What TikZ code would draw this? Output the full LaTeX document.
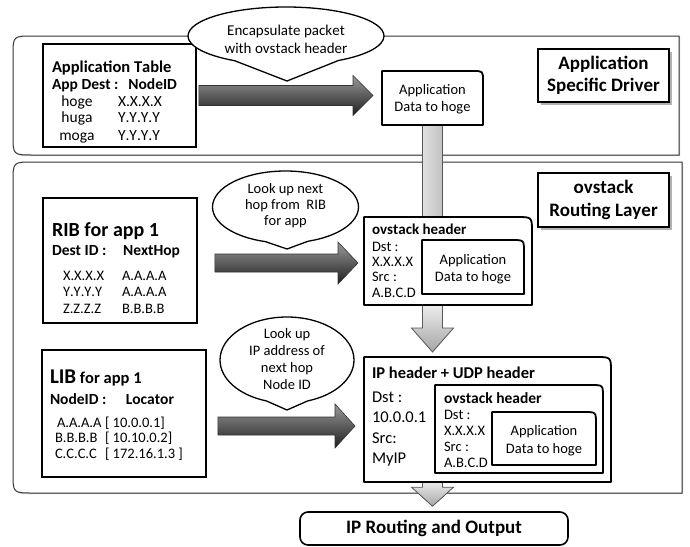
\documentclass[tikz,border=0pt]{standalone}
\usepackage{fontspec}
\setmainfont[Kerning=Off]{Carlito}
\usetikzlibrary{shapes.misc,shapes.callouts,shadows,calc}
\newcommand\rtbox[2]{\filldraw[boxline] (#1.south west) -- (#1.north west) -- ([xshift=-#2]#1.north east) .. controls (#1.north east) .. ([yshift=-#2]#1.north east) -- (#1.south east) -- cycle;}
\newcommand\drawfat[5]{\draw[fatarrow] ([yshift=#3]#1) -- ([xshift=-#5,yshift=#3]#2) -- ([xshift=-#5,yshift=#4]#2) -- (#2) -- ([xshift=-#5,yshift=-#4]#2) -- ([xshift=-#5,yshift=-#3]#2) -- ([yshift=-#3]#1) -- cycle;}
\tikzset{
  frame/.style={inner sep=0pt, outer sep=0pt, draw=none},
  boxline/.style={draw=black, fill=white, line width=1.8pt, line join=round},
  tablebox/.style={chamfered rectangle, chamfered rectangle corners=north east, chamfered rectangle xsep=14pt, chamfered rectangle ysep=14pt, draw=black, fill=white, line width=1.8pt, inner sep=0pt},
  titlebox/.style={rectangle, draw=black, fill=white, line width=1.8pt, inner sep=0pt, align=center, font=\fontsize{19}{22}\selectfont\bfseries, drop shadow={shadow xshift=2.5pt, shadow yshift=-2.5pt, fill=black!50, opacity=0.6}},
  routebox/.style={rectangle, rounded corners=8pt, draw=black, fill=white, line width=1.6pt, inner sep=0pt, font=\fontsize{19}{22}\selectfont\bfseries},
  layer/.style={draw=black!80, line width=1pt, fill=white, drop shadow={shadow xshift=1.2pt, shadow yshift=-1.2pt, fill=black!40, opacity=0.5}},
  bubble/.style={ellipse callout, draw=black, fill=white, line width=1.3pt, inner sep=0pt},
  fatarrow/.style={draw=black!80, line width=0.6pt, top color=black!40, bottom color=black!88, line join=miter},
  graybar/.style={draw=black!65, line width=0.8pt, left color=black!12, right color=black!24},
  grayarrow/.style={draw=black!65, line width=0.8pt, top color=black!6, bottom color=black!35, line join=miter},
  r145/.style={inner sep=0pt, outer sep=0pt, font=\fontsize{14.5}{17.5}\selectfont},
  r155/.style={inner sep=0pt, outer sep=0pt, font=\fontsize{15.5}{18}\selectfont},
  r165/.style={inner sep=0pt, outer sep=0pt, font=\fontsize{16.5}{20}\selectfont},
  b15/.style={inner sep=0pt, outer sep=0pt, font=\fontsize{15}{18}\selectfont\bfseries},
  b155/.style={inner sep=0pt, outer sep=0pt, font=\fontsize{15.5}{18}\selectfont\bfseries},
  b165/.style={inner sep=0pt, outer sep=0pt, font=\fontsize{16.5}{20}\selectfont\bfseries},
  b20/.style={inner sep=0pt, outer sep=0pt, font=\fontsize{20}{24}\selectfont\bfseries},
}
\begin{document}
\begin{tikzpicture}[x=1pt,y=-1pt]
\useasboundingbox (0,0) rectangle (690,546);
% frames of the packet boxes
\node[frame, minimum width=101, minimum height=54] (appdata1) at (432.5,98) {};
\node[frame, minimum width=168, minimum height=88] (ovbox) at (448,261) {};
\node[frame, minimum width=102, minimum height=54] (appdata2) at (473,267) {};
\node[frame, minimum width=247, minimum height=125] (ipbox) at (487.5,419.5) {};
\node[frame, minimum width=168, minimum height=88] (ovbox2) at (519,429) {};
\node[frame, minimum width=104, minimum height=53] (appdata3) at (544,438.5) {};
% layers
\draw[layer] (679,36) -- (33,36) .. controls (13,36) .. (13,56) -- (13,135) .. controls (13,155) .. (33,155) -- (679,155) -- cycle;
\draw[layer] (682,162) -- (33,162) .. controls (13,162) .. (13,182) -- (13,473) .. controls (13,493) .. (33,493) -- (682,493) -- cycle;
% bottom output box
\node[routebox, minimum width=268, minimum height=33] (iprout) at (434,528.5) {IP Routing and Output};
% gray block arrows
\filldraw[graybar] ($(appdata1.south)+(-10,-2)$) rectangle ($(appdata1.south |- ovbox.north)+(10,2)$);
\coordinate (g2s) at (appdata1.south |- ovbox.south);
\coordinate (g2t) at ($(appdata1.south |- ipbox.north)+(0,-5)$);
\filldraw[grayarrow] ([xshift=-10pt,yshift=2pt]g2s) -- ([xshift=10pt,yshift=2pt]g2s) -- ([xshift=10pt,yshift=24pt]g2t) -- ([xshift=21pt,yshift=24pt]g2t) -- (g2t) -- ([xshift=-21pt,yshift=24pt]g2t) -- ([xshift=-10pt,yshift=24pt]g2t) -- cycle;
\coordinate (g3s) at (appdata1.south |- ipbox.south);
\coordinate (g3t) at ($(appdata1.south |- iprout.north)+(0,-5)$);
\filldraw[grayarrow] ([xshift=-10pt,yshift=2pt]g3s) -- ([xshift=10pt,yshift=2pt]g3s) -- ([xshift=10pt,yshift=19pt]g3t) -- ([xshift=21pt,yshift=19pt]g3t) -- (g3t) -- ([xshift=-21pt,yshift=19pt]g3t) -- ([xshift=-10pt,yshift=19pt]g3t) -- cycle;
% packet boxes
\rtbox{appdata1}{10pt}
\rtbox{ovbox}{15pt}
\rtbox{appdata2}{12pt}
\rtbox{ipbox}{15pt}
\rtbox{ovbox2}{12pt}
\rtbox{appdata3}{12pt}
% tables
\node[tablebox, minimum width=153, minimum height=103] (apptable) at (119.5,95.5) {};
\node[tablebox, minimum width=154, minimum height=125, chamfered rectangle xsep=15pt, chamfered rectangle ysep=15pt] (rib) at (120,260.5) {};
\node[tablebox, minimum width=164, minimum height=127] (lib) at (124,413.5) {};
% layer titles
\node[titlebox, minimum width=131, minimum height=53] (asd) at (603.5,75.5) {Application\\Specific Driver};
\node[titlebox, minimum width=131, minimum height=54, font=\fontsize{19}{23}\selectfont\bfseries] (orl) at (603.5,200) {ovstack\\Routing Layer};
% fat arrows
\coordinate (a1s) at ([xshift=2pt]apptable.east);
\coordinate (a1t) at ($(appdata1.west |- a1s)+(-9,0)$);
\drawfat{a1s}{a1t}{10pt}{20pt}{20pt}
\coordinate (a2s) at ($(rib.east)+(17,2.5)$);
\coordinate (a2t) at ($(ovbox.west |- a2s)+(-6,0)$);
\drawfat{a2s}{a2t}{9pt}{21pt}{20pt}
\coordinate (a3s) at ($(lib.east)+(11,12.5)$);
\coordinate (a3t) at ($(ipbox.west |- a3s)+(-9,0)$);
\drawfat{a3s}{a3t}{9pt}{22pt}{20pt}
% callouts
\node[bubble, minimum width=196, minimum height=58, callout pointer arc=64, callout absolute pointer={(287,81)}] (call1) at (286,36) {};
\node[bubble, minimum width=146, minimum height=72, callout pointer arc=34, callout absolute pointer={(287,249)}] (call2) at (285.5,207) {};
\node[bubble, minimum width=134, minimum height=86, callout pointer arc=36, callout absolute pointer={(287,410)}] (call3) at (287,360) {};
\node[r145, font=\fontsize{15}{18}\selectfont, align=center] (call1txt) at (286,39) {Encapsulate packet\\with ovstack header};
\node[r145, font=\fontsize{14.5}{16}\selectfont, align=center] (call2txt) at (285.5,206) {Look up next\\hop from \ RIB\\for app};
\node[r145, font=\fontsize{14.5}{17.3}\selectfont, align=center] (call3txt) at (287,359) {Look up\\IP address of\\next hop\\Node ID};
% application table text
\node[b165, anchor=base west] (attitle) at (52,72) {Application Table};
\node[b155, anchor=base west] (atdest) at (52,89.5) {App Dest :};
\node[b155, anchor=base east] (atnid) at (177,89.5) {NodeID};
\node[r155, anchor=base] (at1a) at (77,106) {hoge};
\node[r155, anchor=base west] (at1b) at (118,106) {X.X.X.X};
\node[r155, anchor=base] (at2a) at (77,122.5) {huga};
\node[r155, anchor=base west] (at2b) at (118,122.5) {Y.Y.Y.Y};
\node[r155, anchor=base] (at3a) at (77,140) {moga};
\node[r155, anchor=base west] (at3b) at (118,140) {Y.Y.Y.Y};
% RIB text
\node[b20, anchor=base west] (ribt) at (52,236) {RIB for app 1};
\node[b155, anchor=base west] (ribd) at (52,255) {Dest ID :};
\node[b155, anchor=base east] (ribn) at (180,255) {NextHop};
\node[r145, anchor=base west] (rib1a) at (63,280.5) {X.X.X.X};
\node[r145, anchor=base west] (rib1b) at (122,280.5) {A.A.A.A};
\node[r145, anchor=base west] (rib2a) at (63,296.5) {Y.Y.Y.Y};
\node[r145, anchor=base west] (rib2b) at (122,296.5) {A.A.A.A};
\node[r145, anchor=base west] (rib3a) at (63,313.5) {Z.Z.Z.Z};
\node[r145, anchor=base west] (rib3b) at (122,313.5) {B.B.B.B};
% LIB text
\node[b165, anchor=base west] (libt) at (50,383) {{\fontsize{21}{24}\selectfont LIB} for app 1};
\node[b155, anchor=base west] (libn) at (50,404) {NodeID :};
\node[b155, anchor=base east] (libl) at (174,404) {Locator};
\node[r145, anchor=base west] (lib1a) at (57,427.5) {A.A.A.A};
\node[r145, anchor=base west] (lib1b) at (105,427.5) {[ 10.0.0.1]};
\node[r145, anchor=base west] (lib2a) at (55,442.5) {B.B.B.B};
\node[r145, anchor=base west] (lib2b) at (105,442.5) {[ 10.10.0.2]};
\node[r145, anchor=base west] (lib3a) at (55,458.5) {C.C.C.C};
\node[r145, anchor=base west] (lib3b) at (105,458.5) {[ 172.16.1.3 ]};
% packet texts
\node[r145, align=center] (ad1t) at (432.5,99) {Application\\Data to hoge};
\node[b15, anchor=base west] (ovh1) at (372,234.5) {ovstack header};
\node[r145, anchor=base west] (ov1a) at (372,251.5) {Dst :};
\node[r145, anchor=base west] (ov1b) at (372,266.5) {X.X.X.X};
\node[r145, anchor=base west] (ov1c) at (372,281.5) {Src :};
\node[r145, anchor=base west] (ov1d) at (372,297.5) {A.B.C.D};
\node[r145, align=center] (ad2t) at (473,269) {Application\\Data to hoge};
\node[b165, anchor=base west] (iph) at (372,378.5) {IP header + UDP header};
\node[r165, anchor=base west] (ip1) at (372,402) {Dst :};
\node[r165, anchor=base west] (ip2) at (372,422.5) {10.0.0.1};
\node[r165, anchor=base west] (ip3) at (372,443.5) {Src:};
\node[r165, anchor=base west] (ip4) at (372,463.5) {MyIP};
\node[b155, anchor=base west] (ovh2) at (444,403) {ovstack header};
\node[r145, anchor=base west] (ov2a) at (444,419.5) {Dst :};
\node[r145, anchor=base west] (ov2b) at (444,435.5) {X.X.X.X};
\node[r145, anchor=base west] (ov2c) at (444,451.5) {Src :};
\node[r145, anchor=base west] (ov2d) at (444,467.5) {A.B.C.D};
\node[r145, align=center] (ad3t) at (544,440.5) {Application\\Data to hoge};
\end{tikzpicture}
\end{document}
